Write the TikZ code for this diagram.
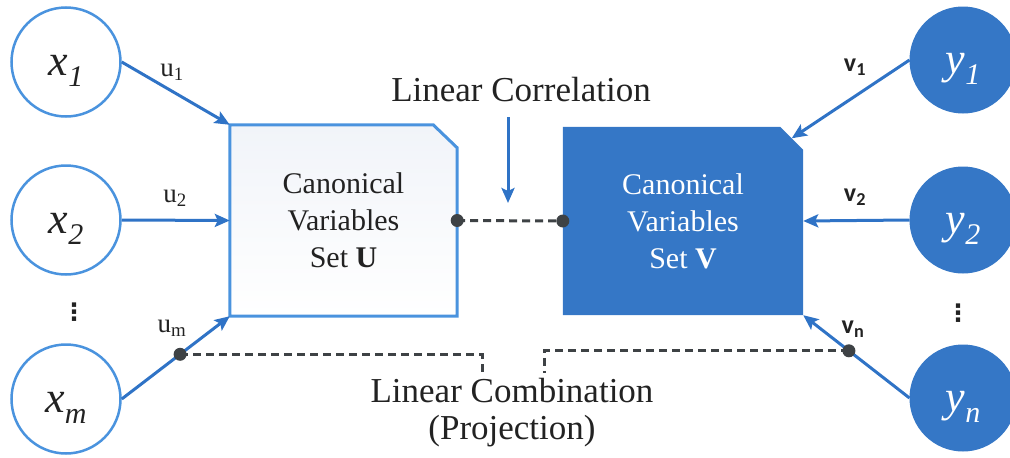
\documentclass[tikz,border=0pt]{standalone}
\usepackage{fontspec}
\setmainfont{Liberation Serif}
\newfontfamily\labelsans{Carlito}
\newfontfamily\symfont{DejaVu Sans}
\usetikzlibrary{arrows.meta,calc}

\definecolor{lineblue}{HTML}{4A93DE}
\definecolor{arrowblue}{HTML}{2F73C6}
\definecolor{deepblue}{HTML}{3577C6}
\definecolor{ink}{HTML}{222222}
\definecolor{dotgray}{HTML}{3E4245}
\definecolor{paleblue}{HTML}{F1F4F9}

\pgfdeclarelayer{background}
\pgfsetlayers{background,main}

% variable name with a large italic letter and a lowered italic index
\newcommand\varname[2]{{\fontsize{44}{44}\selectfont\itshape #1}\raisebox{-11pt}{\fontsize{30}{30}\selectfont\itshape #2}}

\tikzset{
  xvar/.style={circle, draw=lineblue, line width=2.5pt, fill=white, minimum size=109pt,
               inner sep=0pt, text=ink, text height=30pt, text depth=4pt},
  yvar/.style={circle, draw=deepblue, fill=deepblue, line width=1pt, minimum size=106pt,
               inner sep=0pt, text=white, text height=30pt, text depth=4pt},
  setbox/.style={rectangle, inner sep=0pt, align=center, font=\fontsize{30}{37}\selectfont},
  flow/.style={-{Stealth[length=15pt,width=13pt,inset=3pt]}, draw=arrowblue, line width=3pt},
  link/.style={draw=dotgray, line width=3pt, dash pattern=on 8pt off 5pt},
  joint/.style={circle, fill=dotgray, minimum size=13pt, inner sep=0pt},
  ulabel/.style={text=ink, font=\fontsize{27}{27}\selectfont},
  vlabel/.style={text=ink, font=\labelsans\bfseries\fontsize{26}{26}\selectfont},
  caption/.style={text=ink, align=center, font=\fontsize{35}{37}\selectfont},
  ellipsis/.style={text=ink, font=\symfont\bfseries\fontsize{24}{24}\selectfont},
}

\begin{document}
\begin{tikzpicture}[x=1pt, y=-1pt]
\useasboundingbox (0,0) rectangle (1010,458);

% input variables
\node[xvar] (x1) at (66,62)  {\varname{x}{1}};
\node[xvar] (x2) at (66,220) {\varname{x}{2}};
\node[xvar] (xm) at (66,399) {\varname{x}{m}};
\node[ellipsis] (xdots) at (74,312) {⋮};

% output variables
\node[yvar] (y1) at (963,60)  {\varname{y}{1}};
\node[yvar] (y2) at (963,220) {\varname{y}{2}};
\node[yvar] (yn) at (963,398) {\varname{y}{n}};
\node[ellipsis] (ydots) at (958,313) {⋮};

% canonical variable sets
\node[setbox, text=ink, minimum width=227pt, minimum height=191pt] (U) at (343.5,220.5)
  {Canonical\\Variables\\Set \textbf{U}};
\node[setbox, text=white, minimum width=240pt, minimum height=188pt] (V) at (683,221)
  {Canonical\\Variables\\Set \textbf{V}};

\begin{pgfonlayer}{background}
  \draw[line width=3pt, draw=lineblue, top color=paleblue, bottom color=white]
    (U.south west) -- (U.north west) -- ([xshift=-24pt]U.north east)
    -- ([yshift=-23pt]U.north east) -- (U.south east) -- cycle;
  \fill[deepblue]
    (V.south west) -- (V.north west) -- ([xshift=-23pt]V.north east)
    -- ([yshift=-23pt]V.north east) -- (V.south east) -- cycle;
\end{pgfonlayer}
\coordinate (Vcut) at ($([xshift=-23pt]V.north east)!0.5!([yshift=-23pt]V.north east)$);

% weights into the sets
\draw[flow] (x1.east) -- (U.north west);
\draw[flow] (x2.east) -- (U.west);
\draw[flow] (xm.east) -- coordinate[pos=0.54] (pU) (U.south west);
\draw[flow] (y1.west) -- (Vcut);
\draw[flow] (y2.west) -- (V.east);
\draw[flow] (yn.west) -- coordinate[pos=0.57] (pV) (V.south east);

\node[ulabel] (u1) at (172,72)  {u\textsubscript{1}};
\node[ulabel] (u2) at (175,198) {u\textsubscript{2}};
\node[ulabel] (um) at (172,328) {u\textsubscript{m}};
\node[vlabel] (v1) at (855,67)  {v\textsubscript{1}};
\node[vlabel] (v2) at (855,197) {v\textsubscript{2}};
\node[vlabel] (vn) at (853,329) {v\textsubscript{n}};

% linear correlation between the sets
\node[caption] (corr) at (521,90) {Linear Correlation};
\coordinate (corrTail) at (508,117);
\coordinate (corrTip) at (508,203);
\draw[flow] (corrTail) -- (corrTip);
\draw[link] (U.east) -- (V.west);

% linear combination (projection)
\node[caption] (comb) at (512,413) {Linear Combination\\(Projection)};
\coordinate (combL) at (482,373);
\coordinate (combR) at (544,373);
\draw[link] (pU) -| (combL);
\draw[link] (pV) -| (combR);

% junction dots
\node[joint] (jU) at (U.east) {};
\node[joint] (jV) at (V.west) {};
\node[joint] (jUm) at (pU) {};
\node[joint] (jVn) at (pV) {};
\end{tikzpicture}
\end{document}
